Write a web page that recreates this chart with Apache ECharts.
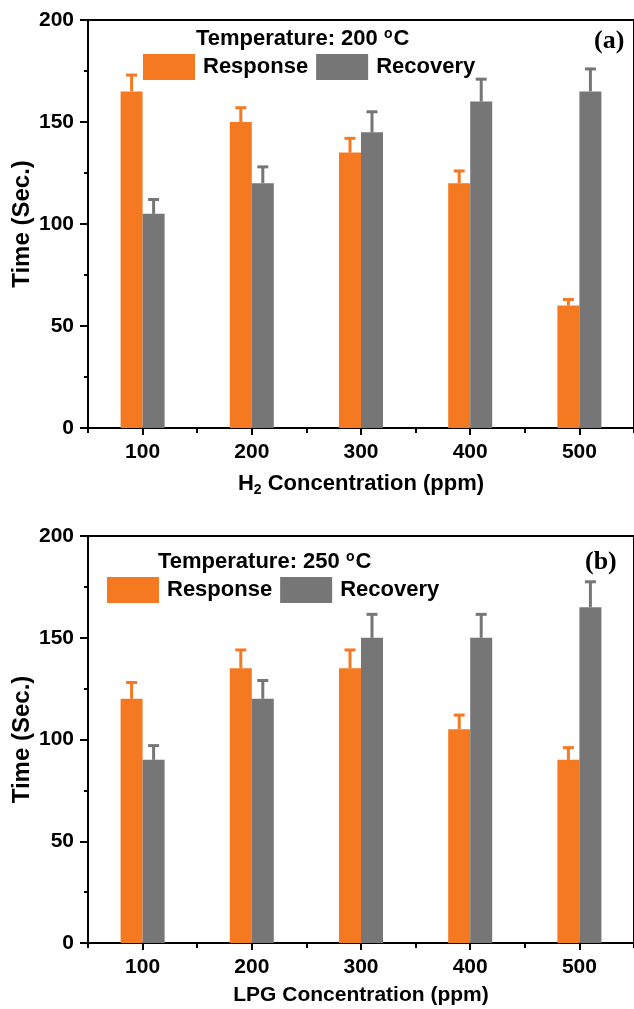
<!DOCTYPE html>
<html>
<head>
<meta charset="utf-8">
<script src="https://cdn.jsdelivr.net/npm/echarts@6/dist/echarts.min.js"></script>
<style>html,body{margin:0;padding:0;background:#fff}#c{width:634px;height:1009px}</style>
</head>
<body>
<div id="c"></div>
<script>
// ---- data ----
const categories = ['100', '200', '300', '400', '500'];
const yTicks = [0, 50, 100, 150, 200];

const h2Response = [165, 150, 135, 120, 60];
const h2ResponseErr = [8, 7, 7, 6, 3];
const h2Recovery = [105, 120, 145, 160, 165];
const h2RecoveryErr = [7, 8, 10, 11, 11];

const lpgResponse = [120, 135, 135, 105, 90];
const lpgResponseErr = [8, 9, 9, 7, 6];
const lpgRecovery = [90, 120, 150, 150, 165];
const lpgRecoveryErr = [7, 9, 11.5, 11.5, 12.5];

// ---- style ----
const FONT = '"Liberation Sans", Arial, sans-serif';
const ORANGE = '#F47920';
const GRAY = '#767676';
const BAR_W = 22;

const chart = echarts.init(document.getElementById('c'), null, {renderer: 'canvas'});

function xAxes(gi, nameRich, nameSize) {
  return [
    { gridIndex: gi, type: 'category', data: categories, position: 'bottom',
      axisLine: {show: true, lineStyle: {color: '#000', width: 2}},
      axisTick: {show: true, alignWithLabel: true, length: 7, lineStyle: {color: '#000', width: 2}},
      axisLabel: {color: '#000', fontFamily: FONT, fontWeight: 'bold', fontSize: 21, margin: 14},
      name: nameRich, nameLocation: 'middle', nameGap: 42,
      nameTextStyle: {color: '#000', fontFamily: FONT, fontWeight: 'bold', fontSize: nameSize,
        rich: {b: {color:'#000', fontFamily: FONT, fontWeight: 'bold', fontSize: nameSize},
               s: {color:'#000', fontFamily: FONT, fontWeight: 'bold', fontSize: 14, padding: [13, 0, 0, 0]}}}
    },
    { gridIndex: gi, type: 'category', data: categories, position: 'bottom',
      axisLine: {show: false},
      axisTick: {show: true, alignWithLabel: false, length: 5, lineStyle: {color: '#000', width: 2}},
      axisLabel: {show: false}
    },
    { gridIndex: gi, type: 'category', data: categories, position: 'top',
      axisLine: {show: true, lineStyle: {color: '#000', width: 2}},
      axisTick: {show: false}, axisLabel: {show: false}
    }
  ];
}

function yAxes(gi) {
  return [
    { gridIndex: gi, type: 'value', min: yTicks[0], max: yTicks[yTicks.length - 1], interval: 50, position: 'left',
      axisLine: {show: true, lineStyle: {color: '#000', width: 2}},
      axisTick: {show: true, inside: false, length: 8, lineStyle: {color: '#000', width: 2}},
      minorTick: {show: true, splitNumber: 2, length: 4, lineStyle: {color: '#000', width: 2}},
      splitLine: {show: false},
      axisLabel: {color: '#000', fontFamily: FONT, fontWeight: 'bold', fontSize: 21, margin: 14},
      name: 'Time (Sec.)', nameLocation: 'middle', nameRotate: 90, nameGap: 54, nameMoveOverlap: false,
      nameTextStyle: {color: '#000', fontFamily: FONT, fontWeight: 'bold', fontSize: 24}
    },
    { gridIndex: gi, type: 'value', min: yTicks[0], max: yTicks[yTicks.length - 1], position: 'right',
      axisLine: {show: true, lineStyle: {color: '#000', width: 2}},
      axisTick: {show: false}, axisLabel: {show: false}, splitLine: {show: false}
    }
  ];
}

function errSeries(name, xi, yi, vals, errs, color, side) {
  return {
    type: 'custom', name: name + ' err', xAxisIndex: xi, yAxisIndex: yi, z: 5,
    data: vals.map((v, i) => [i, v, errs[i]]),
    renderItem: function (params, api) {
      const p1 = api.coord([api.value(0), api.value(1)]);
      const p2 = api.coord([api.value(0), api.value(1) + api.value(2)]);
      const x = p1[0] + side * BAR_W / 2;
      const capW = 11;
      return {
        type: 'group',
        children: [
          {type: 'line', shape: {x1: x, y1: p1[1], x2: x, y2: p2[1]}, style: {stroke: color, lineWidth: 3}},
          {type: 'line', shape: {x1: x - capW / 2, y1: p2[1], x2: x + capW / 2, y2: p2[1]}, style: {stroke: color, lineWidth: 3}}
        ]
      };
    }
  };
}

function barSeries(name, xi, yi, vals, color) {
  return {type: 'bar', name: name, xAxisIndex: xi, yAxisIndex: yi, data: vals,
    barWidth: BAR_W, barGap: '0%', itemStyle: {color: color}, z: 3};
}

function legend(left, top) {
  return {left: left, top: top, padding: 0, orient: 'horizontal', icon: 'rect', itemWidth: 52, itemHeight: 26, itemGap: 8,
    data: ['Response', 'Recovery'], selectedMode: false,
    textStyle: {color: '#000', fontFamily: FONT, fontWeight: 'bold', fontSize: 22, padding: [0, 0, 0, 3]}};
}

function tempText(left, top, t) {
  return {type: 'text', left: left, top: top,
    style: {text: '{t|Temperature: ' + t + ' }{u|o}{t|C}',
      rich: {t: {fontFamily: FONT, fontWeight: 'bold', fontSize: 22, fill: '#000'},
             u: {fontFamily: FONT, fontWeight: 'bold', fontSize: 14, fill: '#000', padding: [0, 1, 10, 0]}}}};
}

function panelLabel(left, top, t) {
  return {type: 'text', left: left, top: top,
    style: {text: t, fontFamily: '"Liberation Serif", "Times New Roman", serif', fontWeight: 'bold', fontSize: 26, fill: '#000'}};
}

const option = {
  backgroundColor: '#fff',
  animation: false,
  grid: [
    {left: 88, top: 20, width: 546, height: 408, outerBoundsMode: 'none', containLabel: false},
    {left: 88, top: 536, width: 546, height: 407, outerBoundsMode: 'none', containLabel: false}
  ],
  xAxis: [].concat(
    xAxes(0, '{b|H}{s|2}{b| Concentration (ppm)}', 22),
    xAxes(1, 'LPG Concentration (ppm)', 21)
  ),
  yAxis: [].concat(yAxes(0), yAxes(1)),
  legend: [legend(143, 54), legend(107, 577)],
  graphic: [
    tempText(196, 27, '200'),
    tempText(158, 550, '250'),
    panelLabel(594, 28, '(a)'),
    panelLabel(585, 549, '(b)')
  ],
  series: [
    barSeries('Response', 0, 0, h2Response, ORANGE),
    barSeries('Recovery', 0, 0, h2Recovery, GRAY),
    errSeries('Response', 0, 0, h2Response, h2ResponseErr, ORANGE, -1),
    errSeries('Recovery', 0, 0, h2Recovery, h2RecoveryErr, GRAY, 1),
    barSeries('Response', 3, 2, lpgResponse, ORANGE),
    barSeries('Recovery', 3, 2, lpgRecovery, GRAY),
    errSeries('Response', 3, 2, lpgResponse, lpgResponseErr, ORANGE, -1),
    errSeries('Recovery', 3, 2, lpgRecovery, lpgRecoveryErr, GRAY, 1)
  ]
};
chart.setOption(option);
</script>
</body>
</html>
